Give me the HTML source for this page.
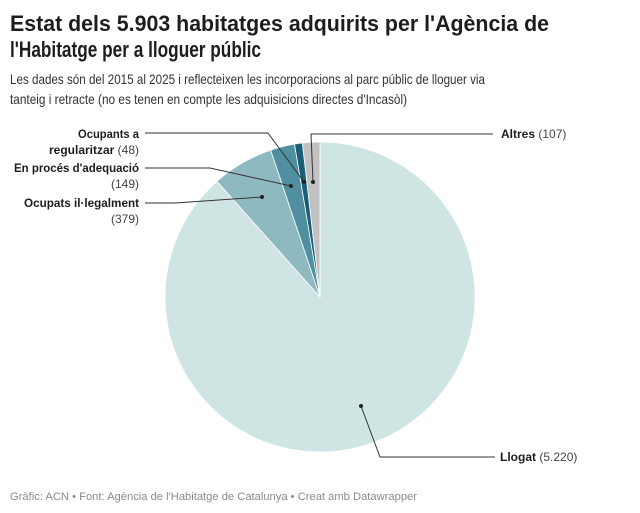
<!DOCTYPE html>
<html><head><meta charset="utf-8"><style>
html,body{margin:0;padding:0;background:#fff;}
svg{display:block;font-family:"Liberation Sans",sans-serif;}
</style></head><body>
<svg width="640" height="513" viewBox="0 0 640 513">
<text x="10" y="31" font-size="22" font-weight="bold" fill="#1d1d1d" textLength="539" lengthAdjust="spacingAndGlyphs">Estat dels 5.903 habitatges adquirits per l'Agència de</text>
<text x="10" y="57" font-size="22" font-weight="bold" fill="#1d1d1d" textLength="251" lengthAdjust="spacingAndGlyphs">l'Habitatge per a lloguer públic</text>
<text x="10" y="84" font-size="14" fill="#333" textLength="475" lengthAdjust="spacingAndGlyphs">Les dades són del 2015 al 2025 i reflecteixen les incorporacions al parc públic de lloguer via</text>
<text x="10" y="104" font-size="14" fill="#333" textLength="397" lengthAdjust="spacingAndGlyphs">tanteig i retracte (no es tenen en compte les adquisicions directes d'Incasòl)</text>

<g stroke="#fff" stroke-width="0.8">
<path d="M320,297 L320,142 A155,155 0 1,1 216.9,181.3 Z" fill="#cfe5e3"/>
<path d="M320,297 L216.9,181.3 A155,155 0 0,1 270.7,150.1 Z" fill="#8fb9c1"/>
<path d="M320,297 L270.7,150.1 A155,155 0 0,1 294.5,144.1 Z" fill="#4f8fa0"/>
<path d="M320,297 L294.5,144.1 A155,155 0 0,1 302.4,143 Z" fill="#1a5f7a"/>
<path d="M320,297 L302.4,143 A155,155 0 0,1 320,142 Z" fill="#c1c1c1"/>
</g>

<g fill="none" stroke="#333" stroke-width="1">
<polyline points="145,133 268,133 304,182"/>
<polyline points="493,134 311,134 313,182"/>
<polyline points="145,168 210,168 291,186"/>
<polyline points="145,203 175,203 262,197"/>
<polyline points="361,406 380,457 495,457"/>
</g>
<g fill="#222">
<circle cx="304" cy="182" r="2"/>
<circle cx="313" cy="182" r="2"/>
<circle cx="291" cy="186" r="2"/>
<circle cx="262" cy="197" r="2"/>
<circle cx="361" cy="406" r="2"/>
</g>

<g font-size="12" fill="#1d1d1d" text-anchor="end">
<text x="139" y="138" font-weight="bold" textLength="61" lengthAdjust="spacingAndGlyphs">Ocupants a</text>
<text x="139" y="154" textLength="90" lengthAdjust="spacingAndGlyphs"><tspan font-weight="bold">regularitzar</tspan> <tspan fill="#444">(48)</tspan></text>
<text x="139" y="172" font-weight="bold" textLength="125" lengthAdjust="spacingAndGlyphs">En procés d'adequació</text>
<text x="139" y="188" fill="#444">(149)</text>
<text x="139" y="207" font-weight="bold" textLength="115" lengthAdjust="spacingAndGlyphs">Ocupats il·legalment</text>
<text x="139" y="223" fill="#444">(379)</text>
</g>
<g font-size="12" fill="#1d1d1d">
<text x="501" y="138"><tspan font-weight="bold">Altres</tspan> <tspan fill="#444">(107)</tspan></text>
<text x="500" y="461"><tspan font-weight="bold">Llogat</tspan> <tspan fill="#444">(5.220)</tspan></text>
</g>
<text x="10" y="500" font-size="11" fill="#8a8a8a" textLength="407" lengthAdjust="spacingAndGlyphs">Gràfic: ACN • Font: Agència de l'Habitatge de Catalunya • Creat amb Datawrapper</text>
</svg>
</body></html>
